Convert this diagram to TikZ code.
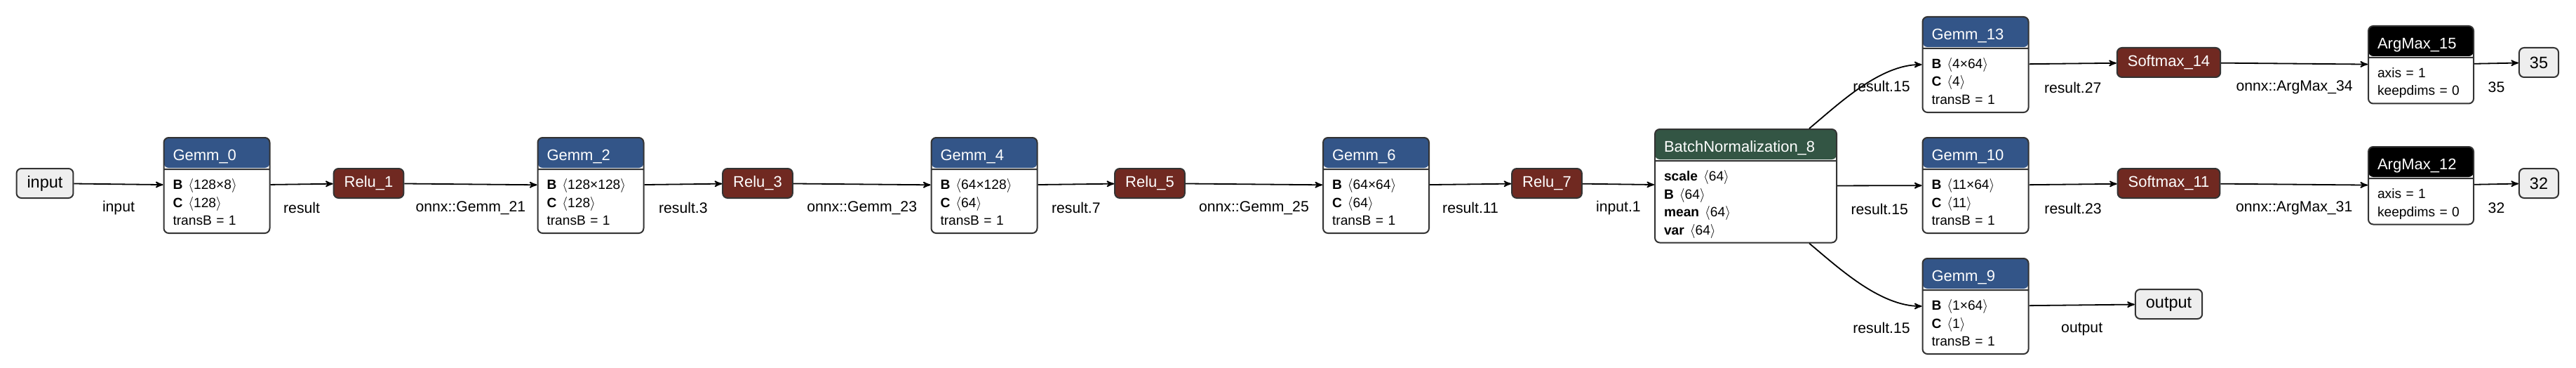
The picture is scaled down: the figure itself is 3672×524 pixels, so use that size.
\documentclass[tikz,border=0pt]{standalone}
\usepackage{fontspec}
\setmainfont{Liberation Sans}
\usetikzlibrary{shapes.multipart}
\usetikzlibrary{arrows}
\definecolor{layerblue}{RGB}{51,85,136}
\definecolor{actred}{RGB}{112,41,33}
\definecolor{normgreen}{RGB}{51,85,68}
\definecolor{ioface}{RGB}{238,238,238}
\definecolor{rim}{RGB}{51,51,51}
\newcommand{\headtxt}[1]{\fontsize{11}{13}\selectfont\color{white}\rule[-4.05pt]{0pt}{18.5pt}#1}
\newcommand{\firstrow}{\rule[-3.75pt]{0pt}{16pt}}
\newcommand{\nextrow}{\rule[-3.75pt]{0pt}{12.75pt}}
\newcommand{\shp}[2]{\textbf{#1}\hspace{4pt}$\langle$#2$\rangle$}
\tikzset{x=0.5pt, y=-0.5pt,
    op/.style={
        rectangle split, rectangle split parts=2,
        fill=white,
        path picture={\fill[#1] (path picture bounding box.north west)
            rectangle ([yshift=-21.5pt]path picture bounding box.north east);},
        draw=rim, line width=1pt, rounded corners=3.5pt,
        inner xsep=6.5pt, inner ysep=1.5pt,
        text width=62.5pt, align=left,
        font=\fontsize{9.6}{12.75}\selectfont,
        anchor=north},
    act/.style={
        draw=rim, fill=actred, text=white,
        line width=1pt, rounded corners=3.5pt,
        minimum height=21pt, inner xsep=7.5pt, inner ysep=0pt,
        font=\fontsize{11}{13}\selectfont},
    io/.style={
        draw=rim, fill=ioface,
        line width=1pt, rounded corners=3.5pt,
        minimum height=21pt, inner xsep=7.5pt, inner ysep=0pt,
        font=\fontsize{11.75}{14}\selectfont},
    elabel/.style={
        yshift=-17pt, inner sep=0pt,
        font=\fontsize{10.6}{12}\selectfont},
    link/.style={
        draw, ->, >=stealth', line width=0.9pt},
    every edge/.style={link}}

\begin{document}
\begin{tikzpicture}
    \useasboundingbox (0,0) rectangle (3672,524);

    \node[io] (in) at (64,261) {input};
    \node[op=layerblue] (gemm0) at (309,195)
        {\headtxt{Gemm\_0}\nodepart{two}\firstrow\shp{B}{128×8}\\\nextrow\shp{C}{128}\\\nextrow transB = 1};
    \node[act] (relu1) at (525.5,261) {Relu\_1};
    \node[op=layerblue] (gemm2) at (842,195)
        {\headtxt{Gemm\_2}\nodepart{two}\firstrow\shp{B}{128×128}\\\nextrow\shp{C}{128}\\\nextrow transB = 1};
    \node[act] (relu3) at (1080,261) {Relu\_3};
    \node[op=layerblue] (gemm4) at (1403,195)
        {\headtxt{Gemm\_4}\nodepart{two}\firstrow\shp{B}{64×128}\\\nextrow\shp{C}{64}\\\nextrow transB = 1};
    \node[act] (relu5) at (1639,261) {Relu\_5};
    \node[op=layerblue] (gemm6) at (1961.5,195)
        {\headtxt{Gemm\_6}\nodepart{two}\firstrow\shp{B}{64×64}\\\nextrow\shp{C}{64}\\\nextrow transB = 1};
    \node[act] (relu7) at (2205,261) {Relu\_7};
    \node[op=normgreen, text width=116.5pt] (bn) at (2488.5,183)
        {\headtxt{BatchNormalization\_8}\nodepart{two}\firstrow\shp{scale}{64}\\\nextrow\shp{B}{64}\\\nextrow\shp{mean}{64}\\\nextrow\shp{var}{64}};

    \node[op=layerblue] (gemm13) at (2816,23)
        {\headtxt{Gemm\_13}\nodepart{two}\firstrow\shp{B}{4×64}\\\nextrow\shp{C}{4}\\\nextrow transB = 1};
    \node[op=layerblue] (gemm10) at (2816,195)
        {\headtxt{Gemm\_10}\nodepart{two}\firstrow\shp{B}{11×64}\\\nextrow\shp{C}{11}\\\nextrow transB = 1};
    \node[op=layerblue] (gemm9) at (2816,367)
        {\headtxt{Gemm\_9}\nodepart{two}\firstrow\shp{B}{1×64}\\\nextrow\shp{C}{1}\\\nextrow transB = 1};

    \node[act] (soft14) at (3091.5,89) {Softmax\_14};
    \node[act] (soft11) at (3091.5,261) {Softmax\_11};
    \node[io] (out) at (3091.5,433) {output};

    \node[op=black, text width=62pt] (arg15) at (3451,36)
        {\headtxt{ArgMax\_15}\nodepart{two}\firstrow axis = 1\\\nextrow keepdims = 0};
    \node[op=black, text width=62pt] (arg12) at (3451,208)
        {\headtxt{ArgMax\_12}\nodepart{two}\firstrow axis = 1\\\nextrow keepdims = 0};
    \node[io] (o35) at (3619,89) {35};
    \node[io] (o32) at (3619,261) {32};

    % main chain
    \draw (in) edge node[elabel] {input} (gemm0);
    \draw (gemm0) edge node[elabel] {result} (relu1);
    \draw (relu1) edge node[elabel] {onnx::Gemm\_21} (gemm2);
    \draw (gemm2) edge node[elabel] {result.3} (relu3);
    \draw (relu3) edge node[elabel] {onnx::Gemm\_23} (gemm4);
    \draw (gemm4) edge node[elabel] {result.7} (relu5);
    \draw (relu5) edge node[elabel] {onnx::Gemm\_25} (gemm6);
    \draw (gemm6) edge node[elabel] {result.11} (relu7);
    \draw (relu7) edge node[elabel] {input.1} (bn);

    % three heads
    \draw[link] ([xshift=-20pt]bn.north east) .. controls +(42,-35) and +(-60,0) .. (gemm13.west);
    \node[elabel] (lab13) at (2682,89) {result.15};
    \draw (bn) edge node[elabel] {result.15} (gemm10);
    \draw[link] ([xshift=-20pt]bn.south east) .. controls +(42,35) and +(-60,0) .. (gemm9.west);
    \node[elabel] (lab9) at (2682,433) {result.15};

    \draw (gemm13) edge node[elabel] {result.27} (soft14);
    \draw (gemm10) edge node[elabel] {result.23} (soft11);
    \draw (gemm9) edge node[elabel] {output} (out);
    \draw (soft14) edge node[elabel] {onnx::ArgMax\_34} (arg15);
    \draw (soft11) edge node[elabel] {onnx::ArgMax\_31} (arg12);
    \draw (arg15) edge node[elabel] {35} (o35);
    \draw (arg12) edge node[elabel] {32} (o32);
\end{tikzpicture}
\end{document}
